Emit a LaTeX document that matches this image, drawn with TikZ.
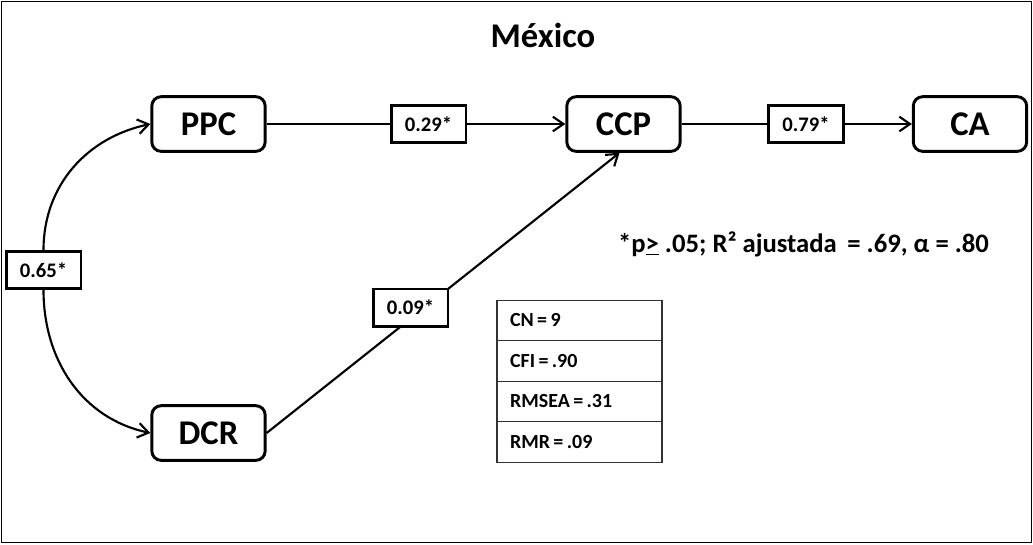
\documentclass[tikz,border=0pt]{standalone}
\usepackage{fontspec}
\setmainfont{Carlito}
\usetikzlibrary{arrows.meta}
\tikzset{
  var/.style={draw, line width=2.2pt, rounded corners=7pt, minimum width=85pt, minimum height=41pt, inner sep=0pt, font=\bfseries\fontsize{26}{28}\selectfont, fill=white},
  coef/.style={draw, line width=2pt, minimum width=56pt, minimum height=28pt, inner sep=0pt, font=\bfseries\fontsize{15.5}{17}\selectfont, fill=white},
  cell/.style={draw=black!80, line width=1pt, minimum width=123.75pt, minimum height=30.4pt, inner sep=0pt, font=\bfseries\fontsize{15}{17}\selectfont, text width=104pt, align=left},
  conn/.style={line width=1.6pt, -{Straight Barb[length=8pt, width=11pt, line width=1.6pt]}},
}
\begin{document}
\begin{tikzpicture}[x=0.75pt, y=-0.75pt]
\useasboundingbox (0,0) rectangle (1033,544);
\draw[line width=1.3pt] (1.5,1.5) rectangle (1031.5,542.5);
\node[font=\bfseries\fontsize{26}{28}\selectfont] (title) at (543,35) {México};

\node[var] (PPC) at (208.5,124) {PPC};
\node[var] (CCP) at (623.5,124) {CCP};
\node[var] (CA)  at (970,124) {CA};
\node[var] (DCR) at (208.5,433) {DCR};

\coordinate (l29) at (428.5,124);
\coordinate (l79) at (806,124);
\coordinate (l65) at (43.5,270);
\coordinate (l09) at (410.5,307.5);

\draw[conn] (PPC.east) -- (CCP.west);
\draw[conn] (CCP.east) -- (CA.west);
\draw[conn] (DCR.east) -- ([xshift=-3pt]CCP.south);
\draw[conn] (l65) -- (43.5,250) to[out=90,in=192] (PPC.west);
\draw[conn] (l65) -- (43.5,290) to[out=-90,in=168] (DCR.west);

\node[coef] (c29) at (l29) {0.29*};
\node[coef] (c79) at (l79) {0.79*};
\node[coef] (c65) at (l65) {0.65*};
\node[coef] (c09) at (l09) {0.09*};

\node[font=\bfseries\fontsize{20}{22}\selectfont] (note) at (803.5,244) {*p\underline{>} .05; R² ajustada \,= .69, α = .80};

\node[cell] (t1) at (579.5,320.5) {CN\,=\,9};
\node[cell] (t2) at (579.5,361) {CFI\,=\,.90};
\node[cell] (t3) at (579.5,401.5) {RMSEA\,=\,.31};
\node[cell] (t4) at (579.5,442) {RMR\,=\,.09};
\end{tikzpicture}
\end{document}
